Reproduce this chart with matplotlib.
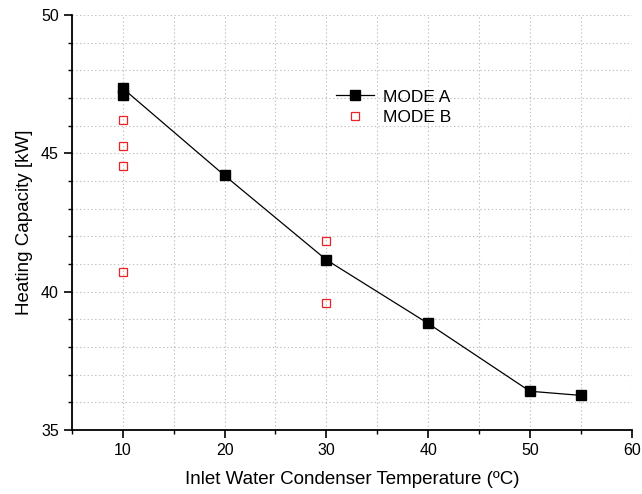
import matplotlib
matplotlib.use('Agg')
from matplotlib import pyplot as plt
from matplotlib.ticker import MultipleLocator

plt.rcParams['font.family'] = ['Liberation Sans', 'DejaVu Sans']

# datos modo A
xA = [10, 10, 20, 30, 40, 50, 55]
yA = [47.1, 47.35, 44.2, 41.15, 38.85, 36.4, 36.25]

# datos modo B
xB = [10, 10, 10, 10, 30, 30]
yB = [46.2, 45.27, 44.54, 40.72, 41.84, 39.59]

fig = plt.figure(figsize=(6.42, 4.94), dpi=100)
ax = fig.add_axes([0.112, 0.1296, 0.872, 0.84])

ax.plot(xA, yA, color='black', lw=0.9, marker='s', ms=7, mfc='black', mec='black', label='MODE A')
ax.plot(xB, yB, ls='none', marker='s', ms=6, mfc='none', mec='#ee2222', mew=0.9, label='MODE B')

ax.set_xlim(5, 60)
ax.set_ylim(35, 50)
ax.xaxis.set_major_locator(MultipleLocator(10))
ax.xaxis.set_minor_locator(MultipleLocator(5))
ax.yaxis.set_major_locator(MultipleLocator(5))
ax.yaxis.set_minor_locator(MultipleLocator(1))

ax.grid(which='both', color='#c0c0c0', ls=(0, (1.2, 2.2)), lw=0.8)
ax.set_axisbelow(True)
for s in ['top', 'right']:
    ax.spines[s].set_visible(False)
for s in ['left', 'bottom']:
    ax.spines[s].set_linewidth(1.3)

ax.tick_params(which='major', direction='out', length=6, width=1.2, labelsize=11.5)
ax.tick_params(which='minor', direction='out', length=3, width=1)

ax.set_xlabel('Inlet Water Condenser Temperature (ºC)', fontsize=13.5, labelpad=9)
ax.set_ylabel('Heating Capacity [kW]', fontsize=13.5, labelpad=6)

ax.legend(loc='upper left', bbox_to_anchor=(0.45, 0.85), frameon=False, fontsize=12.5,
          handlelength=2.2, handletextpad=0.5, borderpad=0.2, labelspacing=0.3)

fig.savefig('out.png', dpi=100)
